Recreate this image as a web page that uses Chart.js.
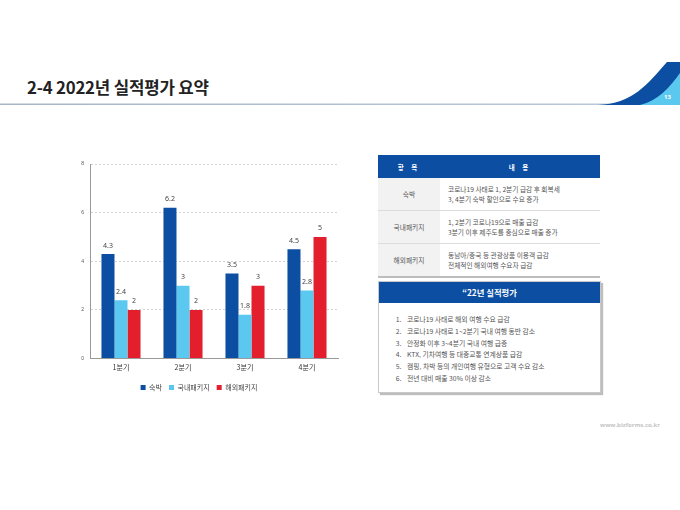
<!DOCTYPE html>
<html>
<head>
<meta charset="utf-8">
<script src="https://cdn.jsdelivr.net/npm/chart.js@4.4.1/dist/chart.umd.min.js"></script>
<style>
  body { margin: 0; background: #fff; font-family: "Noto Sans CJK KR", "Noto Sans", sans-serif; }
  #page { position: relative; width: 680px; height: 510px; overflow: hidden; background: #fff; }
  #title { position: absolute; left: 27px; top: 75px; font-size: 16.8px; font-weight: bold; color: #222; letter-spacing: -0.2px; }
  #chartBox { position: absolute; left: 60px; top: 155px; width: 282px; height: 248px; }
  .tbl { position: absolute; left: 378px; top: 155px; width: 222px; border-collapse: collapse; font-size: 6.7px; color: #555; }
  .tbl th { background: #0b4ea2; color: #fff; height: 21px; font-weight: bold; font-size: 6.5px; letter-spacing: 3px; }
  .tbl td { border-bottom: 1px solid #dcdcdc; height: 30px; line-height: 10px; }
  .tbl tr:last-child td { border-bottom: 2px solid #bdbdbd; }
  .tbl td.k { background: #f2f2f2; width: 60px; text-align: center; }
  .tbl td.v { padding-left: 8px; }
  #box2 { position: absolute; left: 378px; top: 281px; width: 221px; height: 110px; border: 1px solid #c8c8c8; box-shadow: 2px 2px 1px #bdbdbd; background: #fff; }
  #box2 .hd { background: #0b4ea2; color: #fff; height: 21px; line-height: 21px; text-align: center; font-size: 8.3px; font-weight: bold; }
  #box2 ol { margin: 0; padding: 11px 0 0 24px; font-size: 6.8px; color: #555; }
  #box2 li { height: 11.8px; line-height: 11.8px; padding-left: 4px; }
  #foot { position: absolute; left: 600px; top: 421px; font-size: 6px; font-weight: bold; color: #c4c4c4; font-family: "Open Sans", sans-serif; }
</style>
</head>
<body>
<div id="page">
  <svg width="680" height="510" style="position:absolute;left:0;top:0">
    <defs>
      <linearGradient id="ln" x1="0" x2="1" y1="0" y2="0">
        <stop offset="0" stop-color="#a6b6c8"/>
        <stop offset="1" stop-color="#b9c8d8"/>
      </linearGradient>
    </defs>
    <rect x="0" y="103.5" width="612" height="1.5" fill="url(#ln)"/>
    <path d="M598,105 C632,104 648,84 667,62 L680,62 L680,105 Z" fill="#0b4ea2"/>
    <path d="M640,105 C658,101 670,87 680,73 L680,105 Z" fill="#5bc8f0"/>
    <text x="664" y="99" font-size="6" fill="#fff" font-family="Open Sans, sans-serif" font-weight="bold">13</text>
  </svg>
  <div id="title">2-4 2022년 실적평가 요약</div>

  <div id="chartBox"><canvas id="chart"></canvas></div>

  <table class="tbl">
    <tr><th>항 목</th><th>내 용</th></tr>
    <tr><td class="k">숙박</td><td class="v">코로나19 사태로 1, 2분기 급감 후 회복세<br>3, 4분기 숙박 할인으로 수요 증가</td></tr>
    <tr><td class="k">국내패키지</td><td class="v">1, 2분기 코로나19으로 매출 급감<br>3분기 이후 제주도를 중심으로 매출 증가</td></tr>
    <tr><td class="k">해외패키지</td><td class="v">동남아/중국 등 관광상품 이용객 급감<br>전체적인 해외여행 수요자 급감</td></tr>
  </table>

  <div id="box2">
    <div class="hd">“22년 실적평가</div>
    <ol>
      <li>코로나19 사태로 해외 여행 수요 급감</li>
      <li>코로나19 사태로 1~2분기 국내 여행 동반 감소</li>
      <li>안정화 이후 3~4분기 국내 여행 급증</li>
      <li>KTX, 기차여행 등 대중교통 연계상품 급감</li>
      <li>캠핑, 차박 등의 개인여행 유형으로 고객 수요 감소</li>
      <li>전년 대비 매출 30% 이상 감소</li>
    </ol>
  </div>

  <div id="foot">www.bizforms.co.kr</div>
</div>

<script>
// 데이터
const quarters = ['1분기', '2분기', '3분기', '4분기'];
const seriesNames = ['숙박', '국내패키지', '해외패키지'];
const lodging = [4.3, 6.2, 3.5, 4.5];
const domestic = [2.4, 3, 1.8, 2.8];
const overseas = [2, 2, 3, 5];
const yTicks = [0, 2, 4, 6, 8];

const colors = ['#0b4ea2', '#5bc8f0', '#e31e2d'];

// 막대 위 값 표시
const valueLabels = {
  id: 'valueLabels',
  afterDatasetsDraw(chart) {
    const ctx = chart.ctx;
    ctx.save();
    ctx.font = '7px "Noto Sans", sans-serif';
    ctx.fillStyle = '#444';
    ctx.textAlign = 'center';
    ctx.textBaseline = 'bottom';
    chart.data.datasets.forEach((ds, i) => {
      chart.getDatasetMeta(i).data.forEach((bar, j) => {
        ctx.fillText(ds.data[j], bar.x, bar.y - 5);
      });
    });
    ctx.restore();
  }
};

const ctx = document.getElementById('chart').getContext('2d');
new Chart(ctx, {
  type: 'bar',
  data: {
    labels: quarters,
    datasets: [
      { label: seriesNames[0], data: lodging, backgroundColor: colors[0] },
      { label: seriesNames[1], data: domestic, backgroundColor: colors[1] },
      { label: seriesNames[2], data: overseas, backgroundColor: colors[2] }
    ]
  },
  options: {
    responsive: true,
    maintainAspectRatio: false,
    animation: false,
    categoryPercentage: 0.63,
    barPercentage: 1,
    layout: { padding: { top: 1, right: 4, bottom: 2 } },
    plugins: {
      tooltip: { enabled: false },
      legend: {
        position: 'bottom',
        labels: {
          boxWidth: 5, boxHeight: 5, padding: 7,
          color: '#444',
          font: { size: 7, family: '"Noto Sans CJK KR", sans-serif' }
        }
      }
    },
    scales: {
      x: {
        grid: { display: false, drawTicks: false },
        border: { color: '#999' },
        ticks: { color: '#333', font: { size: 7, family: '"Noto Sans CJK KR", sans-serif' }, padding: 5 }
      },
      y: {
        min: 0, max: 8,
        afterBuildTicks(scale) { scale.ticks = yTicks.map(v => ({ value: v })); },
        afterFit(scale) { scale.width = 30; },
        grid: { color: '#d2d2d2', drawTicks: false },
        border: { color: '#999', dash: [2, 2] },
        ticks: { color: '#555', font: { size: 5 }, padding: 6 }
      }
    }
  },
  plugins: [valueLabels]
});
</script>
</body>
</html>
